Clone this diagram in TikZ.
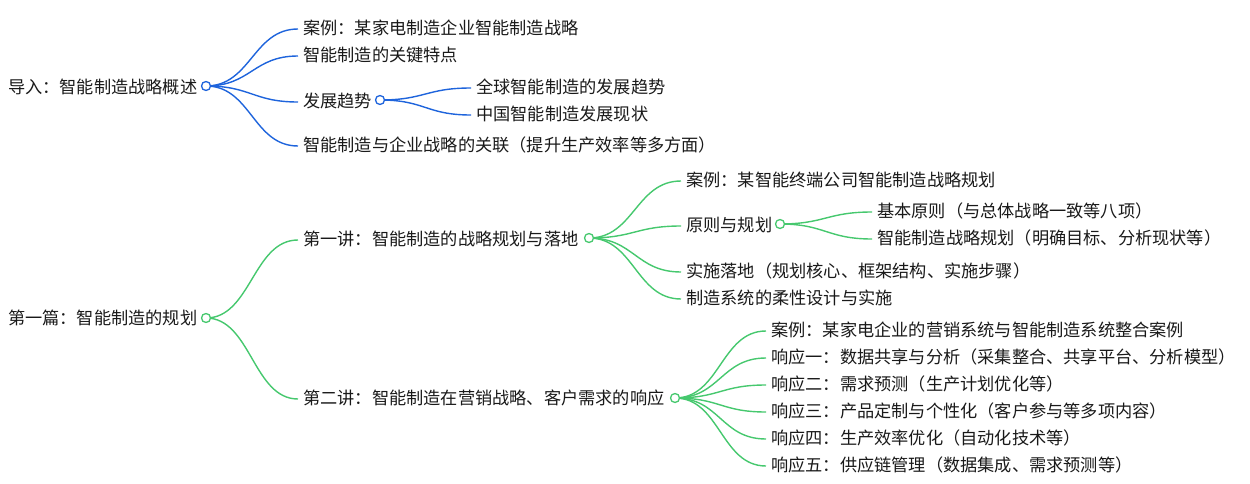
\documentclass[tikz,border=0pt]{standalone}
\usepackage{fontspec}
\setmainfont{Noto Sans CJK SC}
\begin{document}
\begin{tikzpicture}[x=1pt,y=-1pt,
  t/.style={anchor=west,inner sep=0pt,font=\fontsize{17.2}{19}\selectfont,text=black!90},
  dot/.style={circle,draw,fill=white,line width=1.3pt,minimum size=9pt,inner sep=0pt},
  bl/.style={draw=blue1,line width=1.4pt},
  gr/.style={draw=green1,line width=1.4pt}]
\definecolor{blue1}{RGB}{30,100,220}
\definecolor{green1}{RGB}{70,200,110}
\useasboundingbox (0,0) rectangle (1250,484);
\node[t] (r1) at (8,87) {导入：智能制造战略概述};
\node[t] (a1) at (303,28) {案例：某家电制造企业智能制造战略};
\node[t] (a2) at (303,55) {智能制造的关键特点};
\node[t] (a3) at (303,101) {发展趋势};
\node[t] (a31) at (476,87) {全球智能制造的发展趋势};
\node[t] (a32) at (476,114) {中国智能制造发展现状};
\node[t] (a4) at (303,145) {智能制造与企业战略的关联（提升生产效率等多方面）};
\node[t] (r2) at (8,318) {第一篇：智能制造的规划};
\node[t] (b1) at (303,239) {第一讲：智能制造的战略规划与落地};
\node[t] (b11) at (686,180) {案例：某智能终端公司智能制造战略规划};
\node[t] (b12) at (686,225) {原则与规划};
\node[t] (b121) at (877,211) {基本原则（与总体战略一致等八项）};
\node[t] (b122) at (877,238) {智能制造战略规划（明确目标、分析现状等）};
\node[t] (b13) at (686,271) {实施落地（规划核心、框架结构、实施步骤）};
\node[t] (b14) at (686,298) {制造系统的柔性设计与实施};
\node[t] (b2) at (303,398) {第二讲：智能制造在营销战略、客户需求的响应};
\node[t] (b21) at (771,330) {案例：某家电企业的营销系统与智能制造系统整合案例};
\node[t] (b22) at (771,357) {响应一：数据共享与分析（采集整合、共享平台、分析模型）};
\node[t] (b23) at (771,384) {响应二：需求预测（生产计划优化等）};
\node[t] (b24) at (771,411) {响应三：产品定制与个性化（客户参与等多项内容）};
\node[t] (b25) at (771,438) {响应四：生产效率优化（自动化技术等）};
\node[t] (b26) at (771,465) {响应五：供应链管理（数据集成、需求预测等）};
\coordinate (c1) at (206,86);
\coordinate (c3) at (380,100);
\coordinate (c2) at (206,318);
\coordinate (cb1) at (589,238);
\coordinate (cb12) at (780,224);
\coordinate (cb2) at (675,398);
\foreach \n in {a1,a2,a3,a4}
  \draw[bl] (c1) .. controls +(45,0) and +(-45,0) .. ([xshift=-5pt,yshift=-1pt]\n.west);
\foreach \n in {a31,a32}
  \draw[bl] (c3) .. controls +(45,0) and +(-45,0) .. ([xshift=-5pt,yshift=-1pt]\n.west);
\foreach \n in {b1,b2}
  \draw[gr] (c2) .. controls +(45,0) and +(-45,0) .. ([xshift=-5pt,yshift=-1pt]\n.west);
\foreach \n in {b11,b12,b13,b14}
  \draw[gr] (cb1) .. controls +(45,0) and +(-45,0) .. ([xshift=-5pt,yshift=-1pt]\n.west);
\foreach \n in {b121,b122}
  \draw[gr] (cb12) .. controls +(45,0) and +(-45,0) .. ([xshift=-5pt,yshift=-1pt]\n.west);
\foreach \n in {b21,b22,b23,b24,b25,b26}
  \draw[gr] (cb2) .. controls +(45,0) and +(-45,0) .. ([xshift=-5pt,yshift=-1pt]\n.west);
\node[dot,draw=blue1] (d1) at (c1) {};
\node[dot,draw=blue1] (d3) at (c3) {};
\node[dot,draw=green1] (d2) at (c2) {};
\node[dot,draw=green1] (db1) at (cb1) {};
\node[dot,draw=green1] (db12) at (cb12) {};
\node[dot,draw=green1] (db2) at (cb2) {};
\end{tikzpicture}
\end{document}
